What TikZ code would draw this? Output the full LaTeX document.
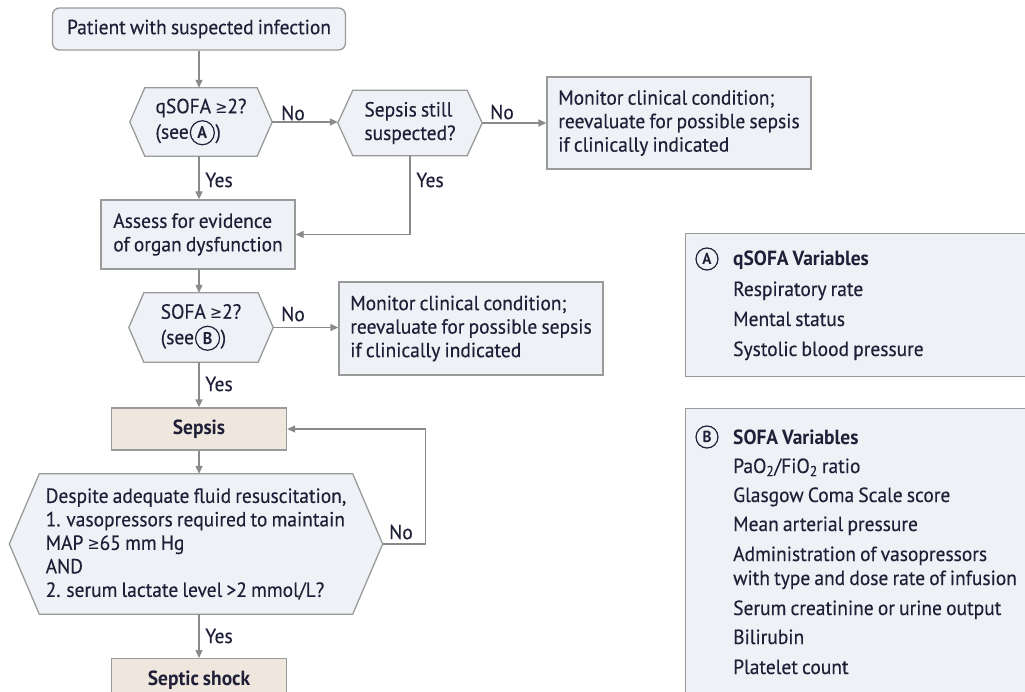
\documentclass[tikz,border=0pt]{standalone}
\usepackage{fontspec}
\setmainfont{PT Sans}[FakeStretch=0.95,WordSpace=0.8,UprightFeatures={FakeBold=0.3}]
\newfontfamily\symfont{DejaVu Sans}[FakeStretch=0.85]
\newcommand{\gesym}{{\symfont\fontsize{17}{17}\selectfont ≥}}
\usetikzlibrary{arrows.meta,backgrounds,calc}
\definecolor{txt}{HTML}{1F1F38}
\definecolor{boxfill}{HTML}{EEF2F6}
\definecolor{boxline}{HTML}{9A9A9A}
\definecolor{arr}{HTML}{8A8A8A}
\definecolor{beige}{HTML}{EFE7DE}
\newcommand{\circA}[1]{\kern1pt\tikz[baseline=(cc.base)]\node[circle,draw=txt,line width=1.2pt,inner sep=0pt,minimum size=24pt,font=\bfseries\fontsize{17}{17}\selectfont,text=txt](cc){#1};\kern0.5pt}
\newcommand{\hexpath}[2]{\path[draw=boxline, fill=boxfill, line width=1.3pt] (#1.west) -- ([xshift=#2]#1.north west) -- ([xshift=-#2]#1.north east) -- (#1.east) -- ([xshift=-#2]#1.south east) -- ([xshift=#2]#1.south west) -- cycle;}
\begin{document}
\begin{tikzpicture}[x=1pt,y=-1pt,
  font=\fontsize{20.5}{23.5}\selectfont, text=txt,
  box/.style={draw=boxline, fill=boxfill, line width=1.3pt, inner sep=0pt},
  beigebox/.style={box, fill=beige, font=\bfseries\fontsize{20.5}{23.5}\selectfont},
  hexn/.style={inner sep=0pt},
  arrow/.style={draw=arr, line width=1.3pt, -{Triangle[length=8pt,width=7pt]}},
  lbl/.style={inner sep=0pt, text=txt},
  item/.style={anchor=base west, inner sep=0pt, text=txt},
  circ/.style={circle,draw=txt,line width=1.2pt,inner sep=0pt,minimum size=22pt,font=\bfseries\fontsize{16}{16}\selectfont}]
\useasboundingbox (0,0) rectangle (1025,692);
\clip (0,0) rectangle (1025,692);

% left column
\node[box, rounded corners=7pt, minimum width=293pt, minimum height=42pt] (start) at (199,29) {Patient with suspected infection};
\node[hexn, minimum width=142pt, minimum height=68pt, align=left] (q) at (201,122) {qSOFA \gesym2?\\[2pt](see\circA{A})};
\node[hexn, minimum width=144pt, minimum height=65pt, align=left] (s) at (410,123) {Sepsis still\\suspected?};
\node[box, minimum width=264pt, minimum height=92pt, align=left] (m1) at (679,123) {Monitor clinical condition;\\reevaluate for possible sepsis\\if clinically indicated};
\node[box, minimum width=194pt, minimum height=69pt, align=left] (assess) at (198,234.5) {Assess for evidence\\of organ dysfunction};
\node[hexn, minimum width=144pt, minimum height=69pt, align=left] (sofa) at (201,327.5) {SOFA \gesym2?\\[2pt](see\circA{B})};
\node[box, minimum width=264pt, minimum height=93pt, align=left] (m2) at (471,328.5) {Monitor clinical condition;\\reevaluate for possible sepsis\\if clinically indicated};
\node[beigebox, minimum width=175pt, minimum height=42pt] (sepsis) at (199,429) {Sepsis};
\node[hexn, minimum width=373pt, minimum height=140pt, align=left] (sq) at (196,544) {Despite adequate fluid resuscitation,\\1. vasopressors required to maintain\\MAP \gesym65 mm Hg\\AND\\2. serum lactate level >2 mmol/L?};
\node[beigebox, minimum width=175pt, minimum height=42pt, anchor=north] (shock) at (199,658) {};
\node[lbl, font=\bfseries\fontsize{20.5}{23.5}\selectfont] (shocktxt) at (199,680) {Septic shock};

\begin{pgfonlayer}{background}
\hexpath{q}{15}
\hexpath{s}{15}
\hexpath{sofa}{15}
\hexpath{sq}{30}
\end{pgfonlayer}

% connectors
\draw[arrow] (start.south -| 199,0) -- (q.north -| 199,0);
\draw[arrow] (q.east) -- (q.east -| s.west);
\draw[arrow] (s.east) -- (s.east -| m1.west);
\draw[arrow] (q.south -| 199,0) -- (assess.north -| 199,0);
\draw[arrow] (s.south) |- (assess.east);
\draw[arrow] (assess.south -| 199,0) -- (sofa.north -| 199,0);
\draw[arrow] (sofa.east) -- (sofa.east -| m2.west);
\draw[arrow] (sofa.south -| 199,0) -- (sepsis.north);
\draw[arrow] (sepsis.south) -- (sepsis.south |- sq.north);
\draw[arrow] (sq.east) -- ++(43,0) |- (sepsis.east);
\draw[arrow] (sq.south -| 199,0) -- (shock.north);

% labels
\node[lbl] at (293,113) {No};
\node[lbl] at (502,112) {No};
\node[lbl] at (219,180) {Yes};
\node[lbl] at (430,180) {Yes};
\node[lbl] at (293,314) {No};
\node[lbl] at (219,384) {Yes};
\node[lbl] at (401,532) {No};
\node[lbl] at (219,636) {Yes};

% right boxes
\node[box, anchor=north west, minimum width=345pt, minimum height=143pt] (boxA) at (685,233) {};
\node[circ] (ca) at (707,259) {A};
\node[item, font=\bfseries\fontsize{20.5}{23.5}\selectfont] (ta) at (733,266) {qSOFA Variables};
\node[item] (a1) at (733,296) {Respiratory rate};
\node[item] (a2) at (733,326) {Mental status};
\node[item] (a3) at (733,356) {Systolic blood pressure};

\node[box, anchor=north west, minimum width=345pt, minimum height=300pt] (boxB) at (685,408) {};
\node[circ] (cb) at (707,437) {B};
\node[item, font=\bfseries\fontsize{20.5}{23.5}\selectfont] (tb) at (733,444) {SOFA Variables};
\node[item] (b1) at (733,473) {PaO\textsubscript{2}/FiO\textsubscript{2} ratio};
\node[item] (b2) at (733,502) {Glasgow Coma Scale score};
\node[item] (b3) at (733,531) {Mean arterial pressure};
\node[item] (b4) at (733,561) {Administration of vasopressors};
\node[item] (b5) at (733,585) {with type and dose rate of infusion};
\node[item] (b6) at (733,615) {Serum creatinine or urine output};
\node[item] (b7) at (733,644) {Bilirubin};
\node[item] (b8) at (733,674) {Platelet count};
\end{tikzpicture}
\end{document}
